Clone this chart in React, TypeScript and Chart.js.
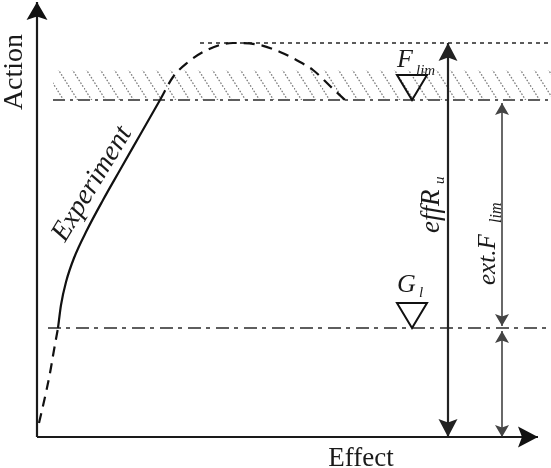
import { useEffect, useRef } from "react";
import { Chart, registerables } from "chart.js";

Chart.register(...registerables);

// ---- data (arbitrary schematic units; origin at the axes' corner) ----
const xRange = [-37, 514];
const yRange = [-31, 437];

const levelNames = ["G_l", "F_lim", "effR_u"];
const levelValues = [109, 337, 394];
const hatchTop = 367;

const lowerDashX = [2, 8, 13, 17, 21];
const lowerDashY = [14, 40, 64, 87, 109];
const solidX = [21, 24, 29, 37, 50, 66, 83, 103, 123];
const solidY = [109, 132, 155, 179, 207, 237, 267, 302, 337];
const upperDashX = [123, 136, 150, 170, 196, 223, 243, 263, 276, 293, 308];
const upperDashY = [337, 360, 374, 387, 394, 392, 385, 375, 367, 351, 337];

const lineStartX = [11, 16, 163]; // G_l, F_lim, effR_u reference lines
const lineEndX = 514;
const axisEnds = [501, 435]; // x axis end, y axis end

const arrowX = [411, 465, 465]; // effR_u, ext.F_lim, G_l
const arrowFrom = [394, 334, 106];
const arrowTo = [0, 111, 0];

const markerX = [375, 375]; // G_l, F_lim markers
const markerLevel = [109, 337];

const labelTexts = ["Action", "Effect", "Experiment", "F", "lim", "G", "l", "effR", "u", "ext.F", "lim"];
const labelX = [-15, 324, 28, 360, 379, 360, 382, 402, 407, 458, 464];
const labelY = [365, -29, 194, 370, 362, 145, 140, 204, 253, 152, 214];

// ---- styles ----
const labelStyle = [
  { size: 28, italic: false, rot: -90, align: "center" },
  { size: 27, italic: false, rot: 0, align: "center" },
  { size: 28, italic: true, rot: -58.7, align: "left" },
  { size: 26, italic: true, rot: 0, align: "left" },
  { size: 15, italic: true, rot: 0, align: "left" },
  { size: 26, italic: true, rot: 0, align: "left" },
  { size: 15, italic: true, rot: 0, align: "left" },
  { size: 27, italic: true, rot: -90, align: "left" },
  { size: 15, italic: true, rot: -90, align: "left" },
  { size: 25, italic: true, rot: -90, align: "left" },
  { size: 16, italic: true, rot: -90, align: "left" },
];

const pts = (xs: number[], ys: number[]) => xs.map((x, i) => ({ x, y: ys[i] }));

const arrowPlugin = {
  id: "arrowheads",
  afterDatasetsDraw(chart: any) {
    const ctx = chart.ctx;
    chart.data.datasets.forEach((ds: any, i: number) => {
      if (!ds.arrow) return;
      const meta = chart.getDatasetMeta(i);
      const els = meta.data;
      const n = els.length;
      const draw = (tip: any, prev: any) => {
        const ang = Math.atan2(tip.y - prev.y, tip.x - prev.x);
        const L = ds.arrow.len;
        const W = ds.arrow.half;
        ctx.save();
        ctx.translate(tip.x, tip.y);
        ctx.rotate(ang);
        ctx.beginPath();
        ctx.moveTo(0, 0);
        ctx.lineTo(-L, -W);
        ctx.lineTo(-L * 0.8, 0);
        ctx.lineTo(-L, W);
        ctx.closePath();
        ctx.fillStyle = ds.arrow.color;
        ctx.fill();
        ctx.restore();
      };
      if (ds.arrow.end) draw(els[n - 1], els[n - 2]);
      if (ds.arrow.start) draw(els[0], els[1]);
    });
  },
};

const annotPlugin = {
  id: "annotations",
  afterDatasetsDraw(chart: any) {
    const ctx = chart.ctx;
    const xs = chart.scales.x;
    const ys = chart.scales.y;
    // level markers (inverted triangles)
    markerX.forEach((mx, i) => {
      const px = xs.getPixelForValue(mx);
      const py = ys.getPixelForValue(markerLevel[i]);
      ctx.save();
      ctx.beginPath();
      ctx.moveTo(px, py);
      ctx.lineTo(px - 15, py - 25);
      ctx.lineTo(px + 15, py - 25);
      ctx.closePath();
      ctx.lineWidth = 2;
      ctx.lineJoin = "miter";
      ctx.strokeStyle = "#111";
      ctx.stroke();
      ctx.restore();
    });
    // texts
    labelTexts.forEach((t, i) => {
      const st = labelStyle[i];
      ctx.save();
      ctx.translate(xs.getPixelForValue(labelX[i]), ys.getPixelForValue(labelY[i]));
      ctx.rotate((st.rot * Math.PI) / 180);
      ctx.font = `${st.italic ? "italic " : ""}${st.size}px "Liberation Serif", "Times New Roman", serif`;
      ctx.fillStyle = "#1a1a1a";
      ctx.textAlign = st.align as CanvasTextAlign;
      ctx.textBaseline = "alphabetic";
      ctx.fillText(t, 0, 0);
      ctx.restore();
    });
  },
};

export default function App() {
  const ref = useRef<HTMLCanvasElement | null>(null);

  useEffect(() => {
    if (!ref.current) return;
    // hatch pattern
    const pc = document.createElement("canvas");
    pc.width = 14;
    pc.height = 22;
    const p = pc.getContext("2d")!;
    p.strokeStyle = "#7a7a7a";
    p.lineWidth = 1.3;
    p.setLineDash([1.6, 1.66]);
    p.beginPath();
    p.moveTo(0, 0);
    p.lineTo(14, 22);
    p.stroke();
    const pattern = ref.current.getContext("2d")!.createPattern(pc, "repeat");

    const levelLine = (idx: number, color: string, dash: number[], width: number) => ({
      label: levelNames[idx],
      data: [
        { x: lineStartX[idx], y: levelValues[idx] },
        { x: lineEndX, y: levelValues[idx] },
      ],
      borderColor: color,
      borderDash: dash,
      borderWidth: width,
      pointRadius: 0,
      fill: false,
    });

    const vArrow = (idx: number, color: string, width: number, len: number, half: number) => ({
      label: "arrow" + idx,
      data: [
        { x: arrowX[idx], y: arrowFrom[idx] },
        { x: arrowX[idx], y: arrowTo[idx] },
      ],
      borderColor: color,
      borderWidth: width,
      pointRadius: 0,
      fill: false,
      arrow: { start: true, end: true, len, half, color },
    });

    const chart = new Chart(ref.current, {
      type: "line",
      data: {
        datasets: [
          {
            label: "x axis",
            data: [
              { x: 0, y: 0 },
              { x: axisEnds[0], y: 0 },
            ],
            borderColor: "#1a1a1a",
            borderWidth: 2.2,
            pointRadius: 0,
            fill: false,
            arrow: { end: true, len: 20, half: 10.5, color: "#111" },
          } as any,
          {
            label: "y axis",
            data: [
              { x: 0, y: 0 },
              { x: 0, y: axisEnds[1] },
            ],
            borderColor: "#1a1a1a",
            borderWidth: 2.2,
            pointRadius: 0,
            fill: false,
            arrow: { end: true, len: 18, half: 10.5, color: "#111" },
          } as any,
          vArrow(0, "#222", 2.2, 18, 9.5) as any,
          vArrow(1, "#444", 1.6, 12, 7) as any,
          vArrow(2, "#444", 1.6, 12, 7) as any,
          {
            label: "Experiment",
            data: pts(solidX, solidY),
            borderColor: "#111",
            borderWidth: 2.2,
            pointRadius: 0,
            cubicInterpolationMode: "monotone",
            fill: false,
          },
          {
            label: "lower dashed",
            data: pts(lowerDashX, lowerDashY),
            borderColor: "#111",
            borderWidth: 2.2,
            borderDash: [10, 7],
            pointRadius: 0,
            tension: 0.35,
            fill: false,
          },
          {
            label: "upper dashed",
            data: pts(upperDashX, upperDashY),
            borderColor: "#111",
            borderWidth: 2.2,
            borderDash: [11, 7],
            pointRadius: 0,
            cubicInterpolationMode: "monotone",
            fill: false,
          },
          levelLine(2, "#333", [4, 4], 1.6),
          levelLine(1, "#5e5e5e", [12, 5, 3, 5], 2.2),
          levelLine(0, "#5e5e5e", [13, 5, 4, 6], 2.2),
          {
            label: "hatch",
            data: [
              { x: lineStartX[1], y: hatchTop },
              { x: lineEndX, y: hatchTop },
            ],
            borderWidth: 0,
            borderColor: "rgba(0,0,0,0)",
            backgroundColor: pattern as any,
            pointRadius: 0,
            fill: { value: levelValues[1] },
          } as any,
        ],
      },
      options: {
        animation: false,
        responsive: false,
        maintainAspectRatio: false,
        layout: { padding: 0 },
        plugins: {
          legend: { display: false },
          tooltip: { enabled: false },
          title: { display: false },
        },
        events: [],
        scales: {
          x: { type: "linear", min: xRange[0], max: xRange[1], display: false },
          y: { type: "linear", min: yRange[0], max: yRange[1], display: false },
        },
      },
      plugins: [arrowPlugin, annotPlugin],
    });
    return () => chart.destroy();
  }, []);

  return (
    <div style={{ position: "absolute", left: 0, top: 0, width: 551, height: 468, background: "#fff" }}>
      <canvas ref={ref} width={551} height={468} style={{ width: 551, height: 468 }} />
    </div>
  );
}
